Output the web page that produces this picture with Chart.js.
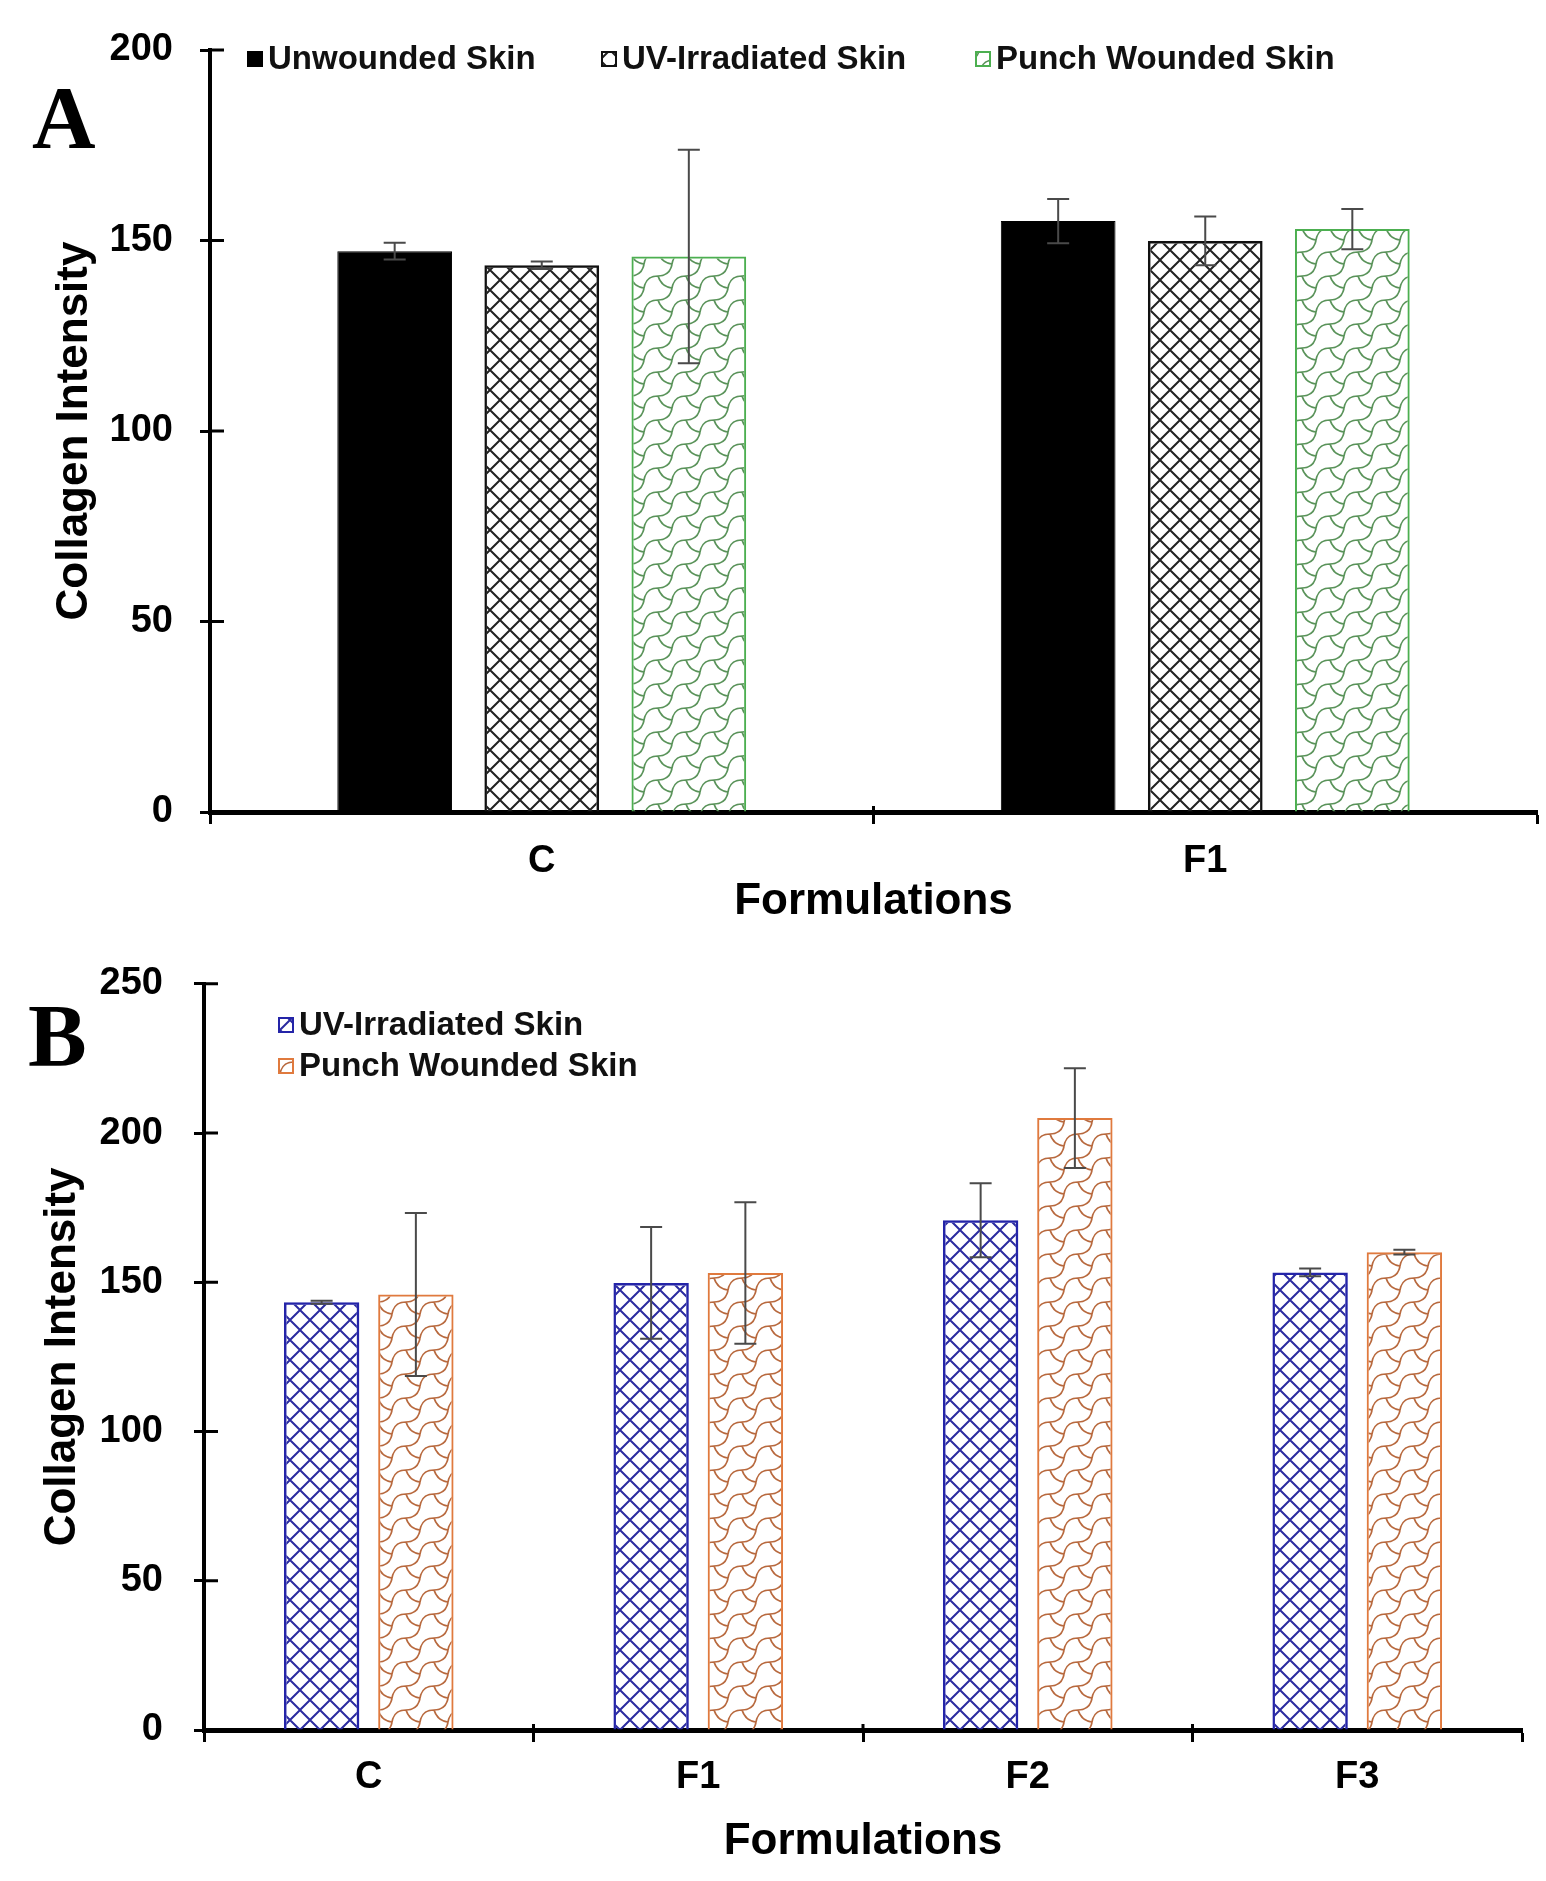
<!DOCTYPE html>
<html>
<head>
<meta charset="utf-8">
<script src="https://cdn.jsdelivr.net/npm/chart.js@4.4.1/dist/chart.umd.min.js"></script>
<style>
  html, body { margin: 0; padding: 0; background: #fff; }
  #wrap { position: relative; width: 1546px; height: 1881px; }
  canvas { position: absolute; left: 0; }
  #chartA { top: 0; }
  #chartB { top: 930px; }
</style>
</head>
<body>
<div id="wrap">
  <canvas id="chartA" width="1546" height="930"></canvas>
  <canvas id="chartB" width="1546" height="951"></canvas>
</div>
<script>
// panel A
const formulationsA = ['C', 'F1'];
const unwoundedA = [147.2, 155.1];
const unwoundedErrA = [2.2, 5.8];
const uvA = [143.5, 149.9];
const uvErrA = [1.0, 6.4];
const punchA = [145.8, 153.0];
const punchErrA = [28.0, 5.3];
const ticksA = [0, 50, 100, 150, 200];

// panel B
const formulationsB = ['C', 'F1', 'F2', 'F3'];
const uvB = [143.3, 149.8, 170.8, 153.3];
const uvErrB = [0.5, 18.7, 12.4, 1.3];
const punchB = [145.9, 153.1, 205.0, 160.1];
const punchErrB = [27.3, 23.7, 16.7, 0.8];
const ticksB = [0, 50, 100, 150, 200, 250];

const seriesNames = ['Unwounded Skin', 'UV-Irradiated Skin', 'Punch Wounded Skin'];

const SANS = '"Liberation Sans", Arial, sans-serif';

// diamond lattice fill
function latticePattern(ctx, color) {
    const s = 20;
    const c = document.createElement('canvas');
    c.width = s; c.height = s;
    const g = c.getContext('2d');
    g.strokeStyle = color;
    g.lineWidth = 2;
    g.beginPath();
    for (const dx of [-s, 0, s]) {
        g.moveTo(dx, 0); g.lineTo(dx + s, s);
        g.moveTo(dx + s, 0); g.lineTo(dx, s);
    }
    g.stroke();
    return ctx.createPattern(c, 'repeat');
}

// wavy shingle fill
function shinglePattern(ctx, color) {
    const w = 28, h = 24;
    const c = document.createElement('canvas');
    c.width = w; c.height = h;
    const g = c.getContext('2d');
    g.strokeStyle = color;
    g.lineWidth = 1.7;
    const offs = [[0, 0], [-w, 0], [w, 0], [0, -h], [0, h], [w, -h], [-w, h], [-w, -h], [w, h]];
    for (const [ox, oy] of offs) {
        g.beginPath();
        g.moveTo(ox, oy + h);
        g.quadraticCurveTo(ox + 2, oy + h * 0.5, ox + w * 0.5, oy + h * 0.5);
        g.quadraticCurveTo(ox + w - 2, oy + h * 0.5, ox + w, oy);
        g.moveTo(ox + w * 0.5, oy + h * 0.5);
        g.quadraticCurveTo(ox + w * 0.62, oy + h * 0.95, ox + w, oy + h);
        g.stroke();
    }
    return ctx.createPattern(c, 'repeat');
}

const errorBars = {
    id: 'errorBars',
    afterDatasetsDraw(chart) {
        const ctx = chart.ctx;
        const y = chart.scales.y;
        chart.data.datasets.forEach((ds, i) => {
            const meta = chart.getDatasetMeta(i);
            meta.data.forEach((bar, j) => {
                const v = ds.data[j], e = ds.errors[j];
                const top = y.getPixelForValue(v + e);
                const bot = y.getPixelForValue(v - e);
                ctx.save();
                ctx.strokeStyle = '#4a4a4a';
                ctx.lineWidth = 2;
                ctx.beginPath();
                ctx.moveTo(bar.x, top); ctx.lineTo(bar.x, bot);
                ctx.moveTo(bar.x - 11, top); ctx.lineTo(bar.x + 11, top);
                ctx.moveTo(bar.x - 11, bot); ctx.lineTo(bar.x + 11, bot);
                ctx.stroke();
                ctx.restore();
            });
        });
    }
};

// tick marks crossing into the plot area + legend + panel letter
const decorations = {
    id: 'decorations',
    afterDraw(chart, args, opts) {
        const { ctx, chartArea, scales: { x, y } } = chart;
        ctx.save();
        ctx.strokeStyle = '#000';
        ctx.lineWidth = 3;
        ctx.beginPath();
        y.ticks.forEach((t, i) => {
            const py = y.getPixelForTick(i);
            ctx.moveTo(chartArea.left, py);
            ctx.lineTo(chartArea.left + opts.innerY, py);
        });
        for (let i = 1; i < x.ticks.length; i++) {
            const px = x.getPixelForValue(i - 0.5);
            ctx.moveTo(px, chartArea.bottom);
            ctx.lineTo(px, chartArea.bottom - opts.innerX);
        }
        ctx.stroke();

        ctx.font = 'bold 33px ' + SANS;
        ctx.textBaseline = 'middle';
        ctx.textAlign = 'left';
        chart.data.datasets.forEach((ds, i) => {
            const [bx, by] = opts.items[i];
            ctx.fillStyle = '#fff';
            ctx.fillRect(bx, by - 7, 14, 14);
            ctx.fillStyle = ds.backgroundColor;
            ctx.fillRect(bx, by - 7, 14, 14);
            ctx.strokeStyle = ds.borderColor;
            ctx.lineWidth = 2;
            ctx.strokeRect(bx, by - 7, 14, 14);
            ctx.fillStyle = '#111';
            ctx.fillText(ds.label, bx + 20, by + 1);
        });

        ctx.font = 'bold 88px "Liberation Serif", "Times New Roman", serif';
        ctx.textBaseline = 'alphabetic';
        ctx.fillStyle = '#000';
        ctx.fillText(opts.letter, opts.letterX, opts.letterY);
        ctx.restore();
    }
};

function makeChart(id, labels, datasets, ticks, lay) {
    const ctx = document.getElementById(id).getContext('2d');
    return new Chart(ctx, {
        type: 'bar',
        data: { labels: labels, datasets: datasets },
        plugins: [errorBars, decorations],
        options: {
            responsive: false,
            animation: false,
            devicePixelRatio: 1,
            layout: { padding: lay.padding },
            datasets: { bar: { categoryPercentage: lay.catPct, barPercentage: lay.barPct } },
            plugins: {
                legend: { display: false },
                tooltip: { enabled: false },
                decorations: lay.deco
            },
            scales: {
                x: {
                    offset: true,
                    afterFit: s => { s.height = lay.xHeight; },
                    border: { color: '#000', width: 5 },
                    grid: { offset: true, drawOnChartArea: false, drawTicks: true, tickLength: 12, tickWidth: 3, tickColor: '#000' },
                    ticks: { color: '#000', padding: lay.xPad, font: { family: SANS, size: 38, weight: 'bold' } },
                    title: {
                        display: true, text: 'Formulations', color: '#000',
                        font: { family: SANS, size: 44, weight: 'bold' },
                        padding: { top: 0, bottom: lay.xTitlePad }
                    }
                },
                y: {
                    min: 0,
                    max: ticks[ticks.length - 1],
                    afterBuildTicks: s => { s.ticks = ticks.map(v => ({ value: v })); },
                    afterFit: s => { s.width = lay.yWidth; },
                    border: { color: '#000', width: 4 },
                    grid: { drawOnChartArea: false, drawTicks: true, tickLength: 10, tickWidth: 3, tickColor: '#000' },
                    ticks: { color: '#000', padding: lay.yPad, font: { family: SANS, size: 38, weight: 'bold' } },
                    title: {
                        display: true, text: 'Collagen Intensity', color: '#000',
                        font: { family: SANS, size: 44, weight: 'bold' },
                        padding: { top: lay.yTitlePad, bottom: 0 }
                    }
                }
            }
        }
    });
}

document.addEventListener('DOMContentLoaded', () => {
    const ctxA = document.getElementById('chartA').getContext('2d');
    const ctxB = document.getElementById('chartB').getContext('2d');

    makeChart('chartA', formulationsA, [
        { label: seriesNames[0], data: unwoundedA, errors: unwoundedErrA,
          backgroundColor: '#000', borderColor: '#000', borderWidth: 1 },
        { label: seriesNames[1], data: uvA, errors: uvErrA,
          backgroundColor: latticePattern(ctxA, '#222'), borderColor: '#111', borderWidth: 2.5 },
        { label: seriesNames[2], data: punchA, errors: punchErrA,
          backgroundColor: shinglePattern(ctxA, '#5a935a'), borderColor: '#4caf50', borderWidth: 2 }
    ], ticksA, {
        padding: { top: 50, right: 9, left: 0, bottom: 0 },
        yWidth: 210, xHeight: 118, xPad: 15, xTitlePad: 2, yPad: 27, yTitlePad: 48,
        catPct: 0.665, barPct: 0.78,
        deco: {
            innerY: 14, innerX: 6, letter: 'A', letterX: 32, letterY: 147,
            items: [[248, 59], [602, 59], [976, 59]]
        }
    });

    makeChart('chartB', formulationsB, [
        { label: seriesNames[1], data: uvB, errors: uvErrB,
          backgroundColor: latticePattern(ctxB, '#2b2ba0'), borderColor: '#2424a8', borderWidth: 2.5 },
        { label: seriesNames[2], data: punchB, errors: punchErrB,
          backgroundColor: shinglePattern(ctxB, '#b8693e'), borderColor: '#e07a3e', borderWidth: 2 }
    ], ticksB, {
        padding: { top: 52, right: 24, left: 0, bottom: 0 },
        yWidth: 204, xHeight: 151, xPad: 13, xTitlePad: 13, yPad: 31, yTitlePad: 36,
        catPct: 0.572, barPct: 0.80,
        deco: {
            innerY: 14, innerX: 6, letter: 'B', letterX: 28, letterY: 1065 - 930,
            items: [[279, 1025 - 930], [279, 1066 - 930]]
        }
    });
});
</script>
</body>
</html>
